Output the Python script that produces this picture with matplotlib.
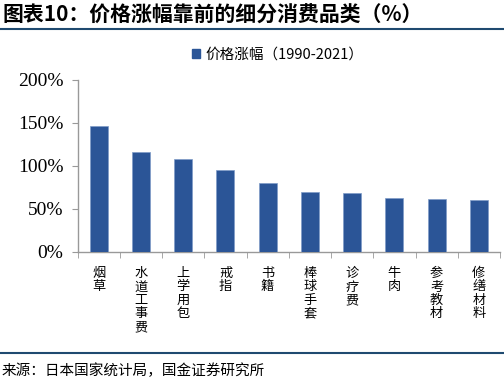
import matplotlib
matplotlib.use('Agg')
import matplotlib.pyplot as plt
import numpy as np
from matplotlib.lines import Line2D
from matplotlib.patches import Patch

# %% data
categories = ['烟草', '水道工事费', '上学用包', '戒指', '书籍', '棒球手套', '诊疗费', '牛肉', '参考教材', '修缮材料']
price_rise = [147, 116, 108, 95, 80, 69, 68, 63, 61, 60]
yticks = [0, 50, 100, 150, 200]
series_name = '价格涨幅（1990-2021）'
title = '图表10：价格涨幅靠前的细分消费品类（%）'
source = '来源：日本国家统计局，国金证券研究所'

cjk = ['Noto Sans CJK SC', 'DejaVu Sans']
serif = ['Liberation Serif', 'Noto Sans CJK SC']
bar_color = '#2B5597'
line_color = '#1F4A70'
W, H = 504, 387

# %% plot
fig = plt.figure(figsize=(W / 100, H / 100), dpi=100)
ax = fig.add_axes([77.5 / W, 1 - 251.7 / H, (500 - 77.5) / W, (251.7 - 80) / H])

x = np.arange(len(categories))
ax.bar(x, price_rise, width=0.43, color=bar_color, edgecolor='#7f9cc8', linewidth=0.5, zorder=3)

ax.set_xlim(-0.5, len(categories) - 0.5)
ax.set_ylim(0, 200)
ax.set_yticks(yticks)
ax.set_yticklabels([f'{v}%' for v in yticks], fontfamily=serif, fontsize=14)

# category ticks sit between bars
ax.set_xticks(np.arange(len(categories) + 1) - 0.5, minor=True)
ax.set_xticks(x)
ax.set_xticklabels(['\n'.join(c) for c in categories], fontfamily=cjk, fontsize=9.5,
                   linespacing=1.05, va='top')
ax.tick_params(axis='x', which='major', length=0, pad=11)
ax.tick_params(axis='x', which='minor', length=4, color='#999999', direction='out')
ax.tick_params(axis='y', length=4, color='#999999', direction='out', pad=6)

for s in ['top', 'right']:
    ax.spines[s].set_visible(False)
for s in ['left', 'bottom']:
    ax.spines[s].set_color('#999999')
    ax.spines[s].set_linewidth(1)

fig.legend(handles=[Patch(color=bar_color, label=series_name)], loc='center',
           bbox_to_anchor=(278 / W, 1 - 55 / H), frameon=False,
           prop={'family': cjk, 'size': 10.5}, handlelength=0.55, handleheight=0.55,
           handletextpad=0.4)

fig.text(3 / W, 1 - 15 / H, title, fontfamily=cjk, fontsize=15, fontweight='heavy',
         va='center', ha='left')
fig.add_artist(Line2D([0, 1], [1 - 29 / H, 1 - 29 / H], color=line_color, lw=1.5))
fig.add_artist(Line2D([0, 1], [1 - 353 / H, 1 - 353 / H], color=line_color, lw=1.5))
fig.text(2 / W, 1 - 371 / H, source, fontfamily=cjk, fontsize=10.5, va='center', ha='left')

fig.savefig('out.png', dpi=100)
